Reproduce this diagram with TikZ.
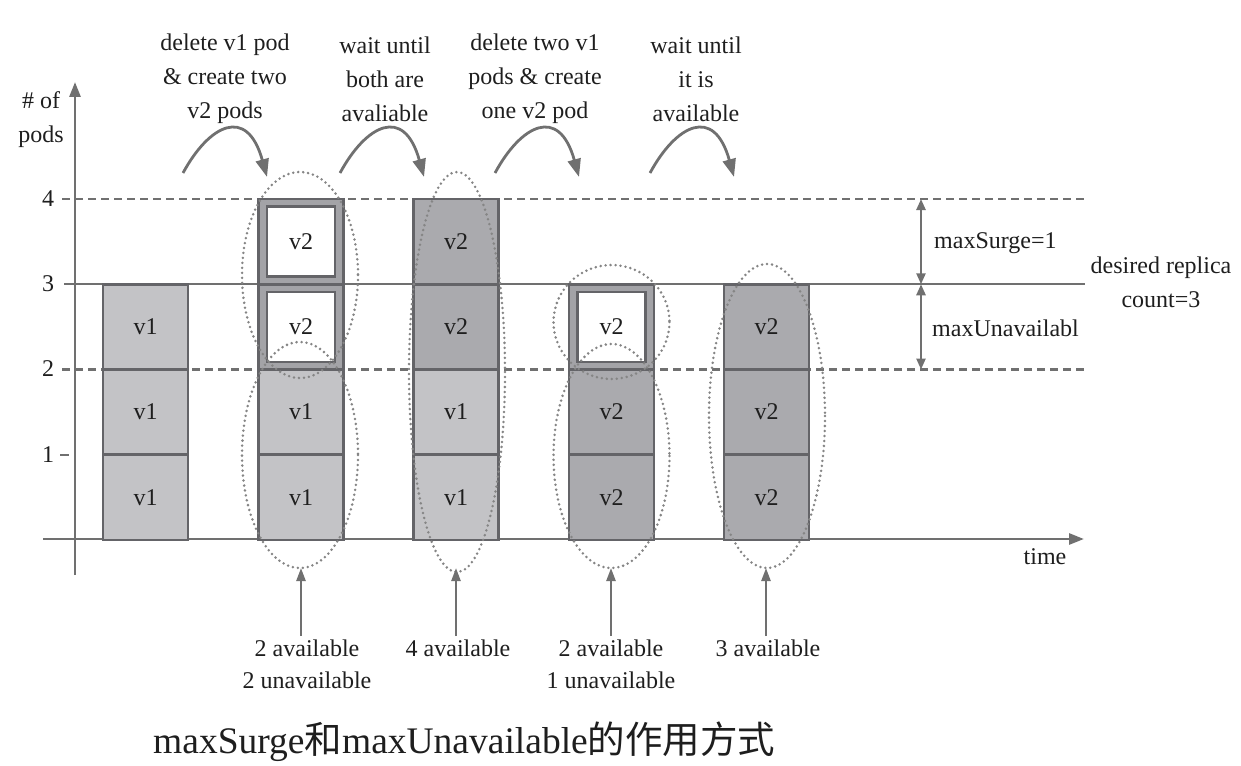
\documentclass[tikz,border=0pt]{standalone}
\usepackage{fontspec}
\setmainfont{Liberation Serif}
\newfontfamily\cjk{Noto Sans CJK SC}
\usetikzlibrary{arrows.meta}
\definecolor{vonegray}{HTML}{C3C3C6}
\definecolor{vtwogray}{HTML}{AAAAAE}
\definecolor{edgegray}{HTML}{646468}
\definecolor{framegray}{HTML}{A3A3A7}
\definecolor{dotgray}{HTML}{858585}
\definecolor{linegray}{HTML}{707070}
\definecolor{textcol}{HTML}{1E1E1E}
\begin{document}
\begin{tikzpicture}[x=1pt,y=-1pt,
  every node/.style={text=textcol, font=\fontsize{24}{34}\selectfont},
  cell/.style={draw=edgegray, line width=2.8pt, minimum width=85pt, minimum height=85.25pt, inner sep=0pt, outer sep=0pt},
  podone/.style={cell, fill=vonegray},
  podtwo/.style={cell, fill=vtwogray},
  podnew/.style={cell, fill=framegray},
  newinner/.style={draw=edgegray, line width=2.4pt, fill=white, minimum width=68pt, minimum height=70pt, inner sep=0pt},
  axisline/.style={draw=linegray, line width=2.8pt},
  levelline/.style={draw=linegray, line width=2.2pt, dash pattern=on 8pt off 5pt},
  groupring/.style={draw=dotgray, line width=2.8pt, dash pattern=on 0pt off 5pt, line cap=round},
  curvarrow/.style={draw=linegray, line width=2.8pt, -{Triangle[length=18pt,width=13pt]}},
  uparrow/.style={draw=linegray, line width=2.4pt, -{Triangle[length=13pt,width=9pt]}},
  spanarrow/.style={draw=linegray, line width=2.4pt, {Triangle[length=11pt,width=9pt]}-{Triangle[length=11pt,width=9pt]}},
  lbl/.style={align=center, inner sep=0pt}
]
\useasboundingbox (0,0) rectangle (1241,765);

% level lines
\coordinate (l4a) at (62,199);   \coordinate (l4b) at (1085,199);
\coordinate (l3a) at (64,284.25);\coordinate (l3b) at (1085,284.25);
\coordinate (l2a) at (62,369.5); \coordinate (l2b) at (1085,369.5);
\draw[levelline] (l4a) -- (l4b);
\draw[levelline] (l2a) -- (l2b);
\draw[axisline, line width=2.4pt] (l3a) -- (l3b);

% axes
\coordinate (xa) at (43,539); \coordinate (xb) at (1084,539);
\coordinate (ya) at (75,575); \coordinate (yb) at (75,82);
\draw[axisline, -{Triangle[length=15pt,width=11pt]}] (xa) -- (xb);
\draw[axisline, -{Triangle[length=15pt,width=11pt]}] (ya) -- (yb);
\coordinate (t1a) at (60,455); \coordinate (t1b) at (69,455);
\draw[axisline, line width=2pt] (t1a) -- (t1b);

% tick labels
\node (n4) at (48,199) {4};
\node (n3) at (48,284) {3};
\node (n2) at (48,369) {2};
\node (n1) at (48,455) {1};
\node[lbl] (ylab) at (41,120) {\# of\\pods};
\node (xlab) at (1045,557) {time};

% column 1
\node[podone] (a1) at (145.5,497.4) {v1};
\node[podone] (a2) at (145.5,412.1) {v1};
\node[podone] (a3) at (145.5,326.9) {v1};
% column 2
\node[podone] (b1) at (301,497.4) {v1};
\node[podone] (b2) at (301,412.1) {v1};
\node[podnew] (b3) at (301,326.9) {};
\node[newinner] (b3i) at (301,326.9) {v2};
\node[podnew] (b4) at (301,241.6) {};
\node[newinner] (b4i) at (301,241.6) {v2};
% column 3
\node[podone] (c1) at (456,497.4) {v1};
\node[podone] (c2) at (456,412.1) {v1};
\node[podtwo] (c3) at (456,326.9) {v2};
\node[podtwo] (c4) at (456,241.6) {v2};
% column 4
\node[podtwo] (d1) at (611.5,497.4) {v2};
\node[podtwo] (d2) at (611.5,412.1) {v2};
\node[podnew] (d3) at (611.5,326.9) {};
\node[newinner] (d3i) at (611.5,326.9) {v2};
% column 5
\node[podtwo] (e1) at (766.5,497.4) {v2};
\node[podtwo] (e2) at (766.5,412.1) {v2};
\node[podtwo] (e3) at (766.5,326.9) {v2};

% dotted group rings
\draw[groupring] (300,275) ellipse [x radius=58, y radius=103];
\draw[groupring] (300,455) ellipse [x radius=58, y radius=113];
\draw[groupring] (457,372) ellipse [x radius=48, y radius=200];
\draw[groupring] (611.5,322) ellipse [x radius=58, y radius=57];
\draw[groupring] (611.5,456) ellipse [x radius=58, y radius=112];
\draw[groupring] (767,416) ellipse [x radius=58, y radius=152];

% top step labels
\node[lbl] (s1) at (225,79) {delete v1 pod\\\& create two\\v2 pods};
\node[lbl] (s2) at (385,79) {wait until\\both are\\avaliable};
\node[lbl] (s3) at (535,79) {delete two v1\\pods \& create\\one v2 pod};
\node[lbl] (s4) at (696,79) {wait until\\it is\\available};

% curved step arrows
\foreach \s in {183,340,495,650} {
  \draw[curvarrow] (\s,173) .. controls (\s+26,125) and (\s+64,105) .. (\s+84,177);
}

% bottom arrows and labels
\coordinate (u1a) at (301,636); \coordinate (u1b) at (301,568);
\coordinate (u2a) at (456,636); \coordinate (u2b) at (456,568);
\coordinate (u3a) at (611,636); \coordinate (u3b) at (611,568);
\coordinate (u4a) at (766,636); \coordinate (u4b) at (766,568);
\draw[uparrow] (u1a) -- (u1b);
\draw[uparrow] (u2a) -- (u2b);
\draw[uparrow] (u3a) -- (u3b);
\draw[uparrow] (u4a) -- (u4b);
\node[lbl, font=\fontsize{24}{32}\selectfont, anchor=north] (b1l) at (307,640) {2 available\\2 unavailable};
\node[lbl, anchor=north] (b2l) at (458,640) {4 available};
\node[lbl, font=\fontsize{24}{32}\selectfont, anchor=north] (b3l) at (611,640) {2 available\\1 unavailable};
\node[lbl, anchor=north] (b4l) at (768,640) {3 available};

% right side spans
\coordinate (m4) at (921,199);
\coordinate (m3) at (921,284.25);
\coordinate (m2) at (921,369.5);
\draw[spanarrow] (m4) -- (m3);
\draw[spanarrow] (m3) -- (m2);
\node[anchor=west, inner sep=0pt] (surge) at (934,243) {maxSurge=1};
\node[anchor=west, inner sep=0pt] (unav) at (932,328) {maxUnavailabl};
\node[lbl] (desired) at (1161,282) {desired replica\\count=3};

% caption
\node[anchor=west, inner sep=0pt, font=\fontsize{37.5}{42}\selectfont] (cap) at (153,742) {maxSurge{\cjk 和}maxUnavailable{\cjk 的作用方式}};
\end{tikzpicture}
\end{document}
